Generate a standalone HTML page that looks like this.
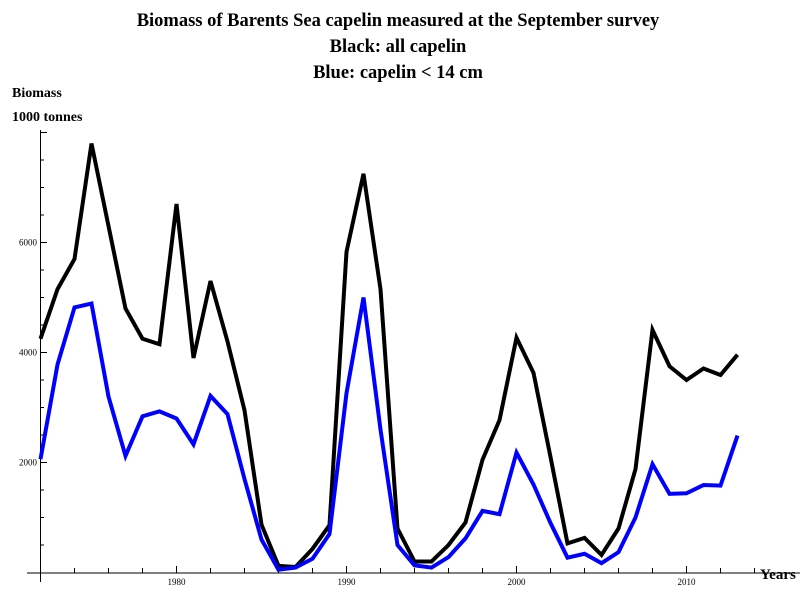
<!DOCTYPE html>
<html><head><meta charset="utf-8"><style>
body{margin:0;background:#fff;}
svg{display:block;font-family:"Liberation Serif",serif;}
</style></head><body>
<svg id="chart" width="800" height="600" viewBox="0 0 800 600">
<g font-weight="bold" font-size="18.5" text-anchor="middle">
<text x="398" y="26">Biomass of Barents Sea capelin measured at the September survey</text>
<text x="398" y="52">Black: all capelin</text>
<text x="398" y="78">Blue: capelin &lt; 14 cm</text>
</g>
<text x="12" y="97" font-weight="bold" font-size="14">Biomass</text>
<text x="12" y="121" font-weight="bold" font-size="14">1000 tonnes</text>
<text x="760" y="579" font-weight="bold" font-size="15">Years</text>
<g id="axes"></g>
<g id="series"></g>
</svg>
<script>
const years=[];for(let y=1972;y<=2013;y++)years.push(y);
const allCapelin=[4250,5150,5700,7800,6300,4800,4250,4150,6700,3900,5300,4200,2950,870,120,100,430,860,5830,7250,5150,800,200,200,500,910,2050,2770,4270,3630,2100,530,630,320,800,1880,4410,3750,3500,3710,3590,3960];
const smallCapelin=[2060,3780,4820,4890,3200,2120,2840,2930,2800,2330,3210,2880,1700,600,50,90,250,700,3260,5000,2600,500,130,90,280,620,1120,1060,2180,1600,900,270,340,170,370,1000,1970,1430,1440,1590,1580,2490];
const yTickLabels=[2000,4000,6000];
const xTickLabels=[1980,1990,2000,2010];
const NS="http://www.w3.org/2000/svg";
const xs=y=>40.5+17*(y-1972);
const ys=v=>572.5-0.055*v;
const axes=document.getElementById('axes');
function mk(tag,attrs,parent){const e=document.createElementNS(NS,tag);for(const k in attrs)e.setAttribute(k,attrs[k]);parent.appendChild(e);return e;}
let l=mk('line',{x1:27,y1:573,x2:800,y2:573,stroke:'#000','stroke-width':1},axes);


l=mk('line',{x1:40.5,y1:130,x2:40.5,y2:582,stroke:'#000','stroke-width':1},axes);


for(let v=500;v<=8000;v+=500){
  const major=v%2000===0;
  const t=mk('line',{x1:40.5,x2:major?47:44,y1:ys(v),y2:ys(v),stroke:'#000','stroke-width':1},axes);
  
  
}
yTickLabels.forEach(v=>{
  const t=mk('text',{x:37,y:ys(v)+3,'font-size':9,'text-anchor':'end'},axes);t.textContent=v;
  
  
});
for(let y=1972;y<=2014;y+=2){
  const major=y%10===0;
  const t=mk('line',{x1:xs(y),x2:xs(y),y1:573,y2:major?566:568,stroke:'#000','stroke-width':1},axes);
  
  
}
xTickLabels.forEach(y=>{
  const t=mk('text',{x:xs(y),y:585,'font-size':9,'text-anchor':'middle'},axes);t.textContent=y;
  
  
});
const series=document.getElementById('series');
function line(vals,color,name){
  const p=mk('polyline',{points:vals.map((v,i)=>xs(years[i])+','+ys(v)).join(' '),fill:'none',stroke:color,'stroke-width':4,'stroke-linejoin':'miter'},series);
  
  
}
line(allCapelin,'#000','line-all-capelin');
line(smallCapelin,'#0000ff','line-capelin-under-14cm');
</script>
</body></html>
